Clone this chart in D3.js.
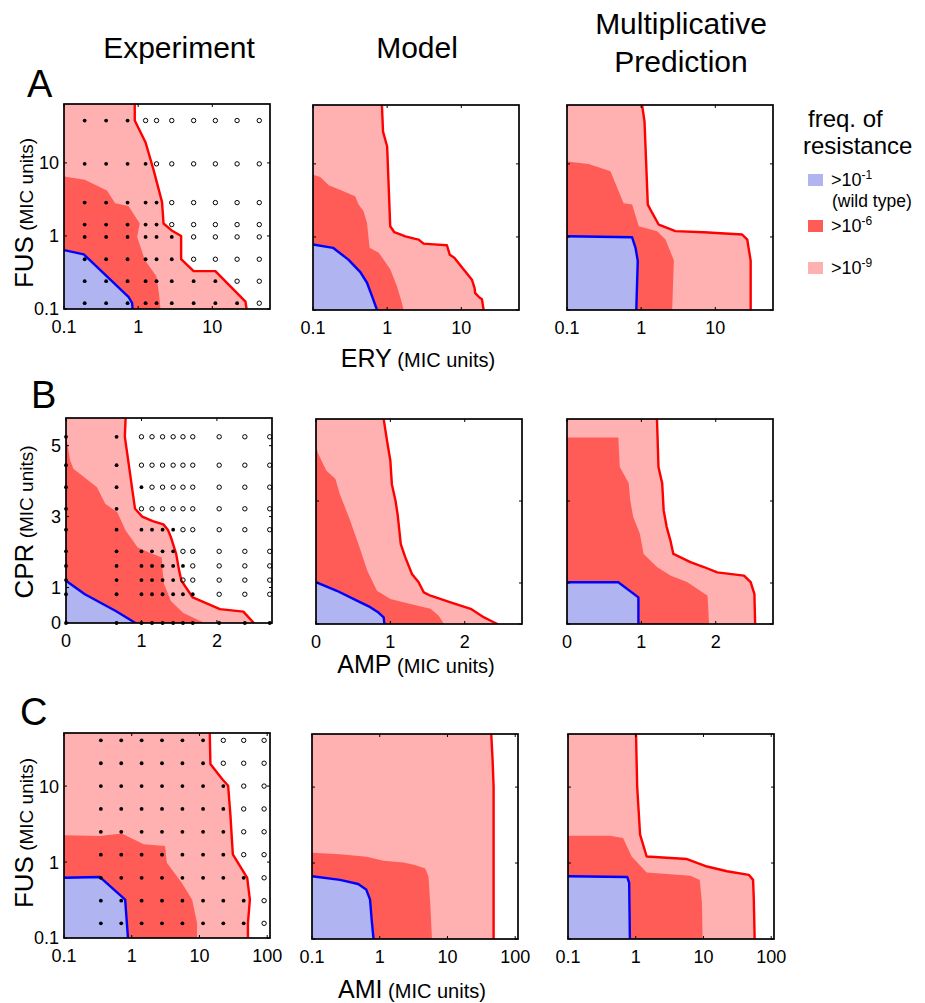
<!DOCTYPE html>
<html><head><meta charset="utf-8">
<script src="https://cdn.jsdelivr.net/npm/d3@7"></script>
<style>
body{margin:0;background:#fff;}
text{font-family:"Liberation Sans",Arial,Helvetica,sans-serif;fill:#000;}
</style></head>
<body>
<svg id="fig" width="925" height="1003"></svg>
<script>
// ---------------- DATA ----------------
// Row A: FUS (y) vs ERY (x), log axes
const A_xTicks = [0.1, 1, 10];
const A_yTicks = [0.1, 1, 10];
const A_exp_pale = [[0.9,64],[0.9,38],[1.26,19],[1.62,7.9],[2.1,2.9],[2.2,1.48],[2.8,1.2],[3.8,1.0],[3.8,0.48],[5.6,0.33],[11,0.33],[28,0.126],[29,0.1]];
const A_exp_dark = [[0.1,6.5],[0.19,5.9],[0.38,4.2],[0.49,2.8],[0.74,2.57],[1.05,1.48],[0.97,0.97],[1.23,0.47],[1.76,0.28],[1.91,0.164],[2.0,0.1]];
const A_exp_blue = [[0.1,0.64],[0.185,0.56],[0.74,0.147],[0.83,0.12],[0.84,0.1]];
const A_mod_pale = [[0.85,64],[0.88,27.7],[1.0,17.3],[1.1,1.4],[1.25,1.16],[1.76,1.02],[2.4,0.94],[2.66,0.92],[3.1,0.81],[4.24,0.79],[6.4,0.77],[7.0,0.57],[8.05,0.52],[10.7,0.36],[13.9,0.26],[15.1,0.2],[15.4,0.17],[17.7,0.147],[19,0.14],[20,0.1]];
const A_mod_dark = [[0.1,7.1],[0.125,6.6],[0.163,5.1],[0.234,4.4],[0.37,3.6],[0.41,2.8],[0.48,2.24],[0.535,1.55],[0.58,0.71],[0.77,0.61],[1.1,0.36],[1.36,0.21],[1.58,0.126],[1.67,0.1]];
const A_mod_blue = [[0.1,0.79],[0.186,0.71],[0.30,0.49],[0.435,0.33],[0.535,0.236],[0.625,0.155],[0.73,0.1]];
const A_mul_pale = [[1.03,64],[1.11,38],[1.23,2.77],[1.41,2.13],[1.73,1.47],[2.9,1.2],[7.0,1.16],[23,1.08],[27,0.92],[30,0.47],[30,0.1]];
const A_mul_dark = [[0.1,10.8],[0.196,10],[0.385,7.9],[0.58,2.9],[0.755,2.77],[0.93,1.4],[1.64,1.2],[2.13,0.92],[2.76,0.48],[2.62,0.1]];
const A_mul_blue = [[0.1,1.02],[0.755,0.99],[0.84,0.71],[0.90,0.47],[0.86,0.1]];
const A_dotX = [0.19, 0.37, 0.72, 1.26, 1.77, 2.84, 5.6, 11, 21.6, 43];
const A_dotY = [38, 9.7, 2.86, 1.43, 0.97, 0.48, 0.24, 0.12];
const A_grownPerRow = [3, 4, 5, 5, 6, 6, 8, 9];

// Row B: CPR (y) vs AMP (x), linear axes
const B_xTicks = [0, 1, 2];
const B_yTicksExp = [0, 1, 3, 5];
const B_yTicksMod = [0, 1, 3];
const B_exp_pale = [[0.79,5.78],[0.78,5.25],[0.83,4.5],[0.88,3.74],[0.915,3.22],[1.01,3.0],[1.15,2.87],[1.29,2.78],[1.35,2.63],[1.39,2.42],[1.46,1.95],[1.5,1.47],[1.53,1.19],[1.59,1.0],[1.68,0.72],[2.04,0.39],[2.35,0.32],[2.49,0]];
const B_exp_dark = [[0,5.3],[0.054,4.59],[0.098,4.35],[0.41,3.83],[0.52,3.36],[0.68,3.12],[0.79,2.61],[0.95,2.13],[1.1,1.99],[1.27,1.85],[1.28,1.47],[1.3,1.1],[1.39,0.62],[1.55,0.29],[1.77,0.06],[1.84,0]];
const B_exp_blue = [[0,1.19],[0.25,0.81],[0.66,0.34],[0.92,0]];
const B_mod_pale = [[0.91,5],[0.955,4.47],[1.0,3.98],[1.02,3.41],[1.07,3.0],[1.1,2.64],[1.14,1.95],[1.2,1.63],[1.29,1.22],[1.38,1.02],[1.45,0.77],[1.54,0.69],[1.81,0.53],[2.08,0.37],[2.26,0.16],[2.35,0.08],[2.44,0]];
const B_mod_dark = [[0,4.31],[0.03,4.15],[0.14,3.74],[0.26,3.54],[0.32,3.17],[0.46,2.52],[0.57,1.95],[0.69,1.3],[0.82,0.81],[1.0,0.61],[1.27,0.49],[1.54,0.37],[1.65,0.2],[1.72,0]];
const B_mod_blue = [[0,1.02],[0.28,0.81],[0.55,0.57],[0.73,0.41],[0.84,0.28],[0.91,0.16],[0.92,0]];
const B_mul_pale = [[1.21,5],[1.23,3.83],[1.28,3.43],[1.3,2.77],[1.34,2.37],[1.39,2.04],[1.43,1.71],[1.66,1.51],[1.84,1.39],[2.02,1.26],[2.38,1.18],[2.47,1.02],[2.52,0.73],[2.53,0]];
const B_mul_dark = [[0,4.55],[0.69,4.55],[0.71,3.83],[0.83,3.43],[0.85,3.02],[0.89,2.61],[0.98,2.2],[1.03,1.71],[1.21,1.39],[1.39,1.18],[1.62,1.02],[1.89,0.69],[1.91,0]];
const B_mul_blue = [[0,1.02],[0.69,1.02],[0.96,0.65],[0.96,0]];
const B_dotX = [0, 0.67, 1.0, 1.14, 1.28, 1.42, 1.55, 1.68, 2.03, 2.37, 2.7];
const B_dotY = [5.25, 4.45, 3.83, 3.22, 2.63, 2.02, 1.61, 1.21, 0.81, 0];
const B_grownPerRow = [2, 2, 3, 2, 6, 6, 7, 6, 8, 11];

// Row C: FUS (y) vs AMI (x), log axes
const C_xTicks = [0.1, 1, 10, 100];
const C_yTicks = [0.1, 1, 10];
const C_exp_pale = [[14.2,50],[14.5,19.5],[21.6,12.4],[26.5,10.1],[28.7,4.05],[29.7,2.44],[31.1,1.26],[50.7,0.62],[55.5,0.32],[52,0.158],[52,0.1]];
const C_exp_dark = [[0.1,2.25],[0.34,2.2],[0.71,2.37],[1.5,1.71],[3.1,1.63],[3.3,0.98],[5.5,0.53],[7.8,0.32],[9.2,0.158],[9.2,0.1]];
const C_exp_blue = [[0.1,0.62],[0.34,0.635],[0.8,0.32],[0.88,0.1]];
const C_mod_pale = [[44.3,50],[46.4,22.6],[48,10.1],[48,0.1]];
const C_mod_dark = [[0.1,1.37],[0.26,1.31],[0.64,1.21],[1.13,1.07],[2.24,1.02],[3.3,0.94],[4.7,0.85],[5.25,0.66],[5.6,0.27],[5.9,0.1]];
const C_mod_blue = [[0.1,0.67],[0.26,0.6],[0.48,0.53],[0.63,0.45],[0.72,0.33],[0.76,0.18],[0.81,0.1]];
const C_mul_pale = [[1.01,50],[1.05,10.2],[1.16,2.36],[1.45,1.22],[5.7,1.13],[11.3,0.9],[22.3,0.78],[46.7,0.7],[54,0.6],[55.4,0.33],[57,0.1]];
const C_mul_dark = [[0.1,2.29],[0.415,2.29],[0.65,2.13],[0.87,1.22],[1.45,0.75],[6.4,0.68],[8.8,0.6],[9.5,0.3],[9.7,0.1]];
const C_mul_blue = [[0.1,0.67],[0.75,0.655],[0.8,0.55],[0.82,0.1]];
const C_dotX = [0.35, 0.7, 1.4, 2.8, 5.6, 11.3, 22.5, 45, 90];
const C_dotY = [40, 20, 10, 5, 2.5, 1.25, 0.62, 0.31, 0.156];
const C_grownPerRow = [6, 6, 7, 7, 7, 7, 8, 8, 8];

const colTitles = ["Experiment", "Model"];
const multTitle = ["Multiplicative", "Prediction"];
const rowLetters = ["A", "B", "C"];
const yDrugs = ["FUS", "CPR", "FUS"];
const xDrugs = ["ERY", "AMP", "AMI"];
const legendLabels = [["-1", "(wild type)"], ["-6", ""], ["-9", ""]];

// ---------------- STYLE / LAYOUT ----------------
const COL_BLUE = "#b0b4f1", COL_DARK = "#ff5b57", COL_PALE = "#ffb0b0";
const LINE_RED = "#ff0000", LINE_BLUE = "#0000ff";
const PW = 206, PH = 205;

const svg = d3.select("#fig");

const panels = [
  {left:64, top:104, xs:"log", xd:[0.1,60], yd:[0.1,64], xt:A_xTicks, yt:A_yTicks, ylab:true, pale:A_exp_pale, dark:A_exp_dark, blue:A_exp_blue, dots:[A_dotX,A_dotY,A_grownPerRow]},
  {left:313, top:105, xs:"log", xd:[0.1,60], yd:[0.1,64], xt:A_xTicks, yt:A_yTicks, ylab:false, pale:A_mod_pale, dark:A_mod_dark, blue:A_mod_blue},
  {left:567, top:105, xs:"log", xd:[0.1,60], yd:[0.1,64], xt:A_xTicks, yt:A_yTicks, ylab:false, pale:A_mul_pale, dark:A_mul_dark, blue:A_mul_blue},
  {left:66, top:418, xs:"lin", xd:[0,2.73], yd:[0,5.78], xt:B_xTicks, yt:B_yTicksExp, ylab:true, pale:B_exp_pale, dark:B_exp_dark, blue:B_exp_blue, dots:[B_dotX,B_dotY,B_grownPerRow]},
  {left:316, top:419, xs:"lin", xd:[0,2.77], yd:[0,5], xt:B_xTicks, yt:B_yTicksMod, ylab:false, pale:B_mod_pale, dark:B_mod_dark, blue:B_mod_blue},
  {left:567, top:419, xs:"lin", xd:[0,2.77], yd:[0,5], xt:B_xTicks, yt:B_yTicksMod, ylab:false, pale:B_mul_pale, dark:B_mul_dark, blue:B_mul_blue},
  {left:64, top:733, xs:"log", xd:[0.1,110], yd:[0.1,50], xt:C_xTicks, yt:C_yTicks, ylab:true, pale:C_exp_pale, dark:C_exp_dark, blue:C_exp_blue, dots:[C_dotX,C_dotY,C_grownPerRow]},
  {left:312, top:734, xs:"log", xd:[0.1,110], yd:[0.1,50], xt:C_xTicks, yt:C_yTicks, ylab:false, pale:C_mod_pale, dark:C_mod_dark, blue:C_mod_blue},
  {left:568, top:734, xs:"log", xd:[0.1,110], yd:[0.1,50], xt:C_xTicks, yt:C_yTicks, ylab:false, pale:C_mul_pale, dark:C_mul_dark, blue:C_mul_blue}
];

panels.forEach((p, i) => {
  const g = svg.append("g").attr("transform", `translate(${p.left},${p.top})`);
  const x = (p.xs === "log" ? d3.scaleLog() : d3.scaleLinear()).domain(p.xd).range([0, PW]);
  const y = (p.xs === "log" ? d3.scaleLog() : d3.scaleLinear()).domain(p.yd).range([PH, 0]);
  const cid = "clip" + i;
  g.append("clipPath").attr("id", cid).append("rect").attr("width", PW).attr("height", PH);
  const body = g.append("g").attr("clip-path", `url(#${cid})`);
  const line = d3.line().x(d => x(d[0])).y(d => y(d[1]));
  const xmin = p.xd[0], ymin = p.yd[0];
  const region = pts => line(pts.concat([[xmin, ymin], [xmin, pts[0][1]]])) + "Z";
  body.append("path").attr("d", region(p.pale)).attr("fill", COL_PALE);
  body.append("path").attr("d", region(p.dark)).attr("fill", COL_DARK);
  body.append("path").attr("d", region(p.blue)).attr("fill", COL_BLUE);
  body.append("path").attr("d", line(p.pale)).attr("fill", "none").attr("stroke", LINE_RED).attr("stroke-width", 2.4).attr("stroke-linejoin", "round");
  body.append("path").attr("d", line(p.blue)).attr("fill", "none").attr("stroke", LINE_BLUE).attr("stroke-width", 2.4).attr("stroke-linejoin", "round");

  if (p.dots) {
    const [dx, dy, nGrown] = p.dots;
    const pts = [];
    dy.forEach((yv, r) => dx.forEach((xv, c) => pts.push({x: xv, y: yv, grown: c < nGrown[r]})));
    g.selectAll("circle.dot").data(pts).enter().append("circle")
      .attr("cx", d => x(d.x)).attr("cy", d => y(d.y))
      .attr("r", d => d.grown ? 1.9 : 2.2)
      .attr("fill", d => d.grown ? "#000" : "none")
      .attr("stroke", d => d.grown ? "none" : "#000")
      .attr("stroke-width", 1);
  }

  g.append("rect").attr("width", PW).attr("height", PH).attr("fill", "none").attr("stroke", "#000").attr("stroke-width", 1.7);
  const TL = 3;
  p.xt.forEach(v => {
    const px = x(v);
    g.append("line").attr("x1", px).attr("x2", px).attr("y1", PH).attr("y2", PH - TL).attr("stroke", "#000");
    g.append("line").attr("x1", px).attr("x2", px).attr("y1", 0).attr("y2", TL).attr("stroke", "#000");
    g.append("text").attr("x", px).attr("y", PH + 24).attr("text-anchor", "middle").attr("font-size", 18).text(String(v));
  });
  p.yt.forEach(v => {
    const py = y(v);
    g.append("line").attr("x1", 0).attr("x2", TL).attr("y1", py).attr("y2", py).attr("stroke", "#000");
    g.append("line").attr("x1", PW).attr("x2", PW - TL).attr("y1", py).attr("y2", py).attr("stroke", "#000");
    if (p.ylab) g.append("text").attr("x", -5).attr("y", py).attr("dy", "0.36em").attr("text-anchor", "end").attr("font-size", 18).text(String(v));
  });
});

// Column titles
svg.append("text").attr("x", 179).attr("y", 57.5).attr("text-anchor", "middle").attr("font-size", 30).text(colTitles[0]);
svg.append("text").attr("x", 417).attr("y", 57.5).attr("text-anchor", "middle").attr("font-size", 30).text(colTitles[1]);
svg.append("text").attr("x", 681).attr("y", 34).attr("text-anchor", "middle").attr("font-size", 30).text(multTitle[0]);
svg.append("text").attr("x", 681).attr("y", 72).attr("text-anchor", "middle").attr("font-size", 30).text(multTitle[1]);

// Row letters
[[27, 97], [31, 408], [20, 725]].forEach((pos, i) => {
  svg.append("text").attr("x", pos[0]).attr("y", pos[1]).attr("font-size", 38).text(rowLetters[i]);
});

// Y axis titles
[213, 522, 833].forEach((cy, i) => {
  const t = svg.append("text").attr("transform", `translate(33,${cy}) rotate(-90)`).attr("text-anchor", "middle");
  t.append("tspan").attr("font-size", 26).text(yDrugs[i]);
  t.append("tspan").attr("font-size", 19).text(" (MIC units)");
});

// X axis titles
[[418, 367], [416, 673], [412, 998]].forEach((pos, i) => {
  const t = svg.append("text").attr("x", pos[0]).attr("y", pos[1]).attr("text-anchor", "middle");
  t.append("tspan").attr("font-size", 25).text(xDrugs[i]);
  t.append("tspan").attr("font-size", 20).text(" (MIC units)");
});

// Legend
svg.append("text").attr("x", 808).attr("y", 127).attr("font-size", 24).text("freq. of");
svg.append("text").attr("x", 803).attr("y", 154).attr("font-size", 24).text("resistance");
const legColors = [COL_BLUE, COL_DARK, COL_PALE];
const legY = [174, 220, 262];
legColors.forEach((c, i) => {
  svg.append("rect").attr("x", 808).attr("y", legY[i]).attr("width", 15).attr("height", 12).attr("fill", c);
  const t = svg.append("text").attr("x", 831).attr("y", legY[i] + 12).attr("font-size", 18);
  t.append("tspan").text(">10");
  t.append("tspan").attr("font-size", 12).attr("dy", -7).text(legendLabels[i][0]);
  if (legendLabels[i][1]) {
    svg.append("text").attr("x", 832).attr("y", legY[i] + 33).attr("font-size", 17.5).text(legendLabels[i][1]);
  }
});
</script>
</body></html>
